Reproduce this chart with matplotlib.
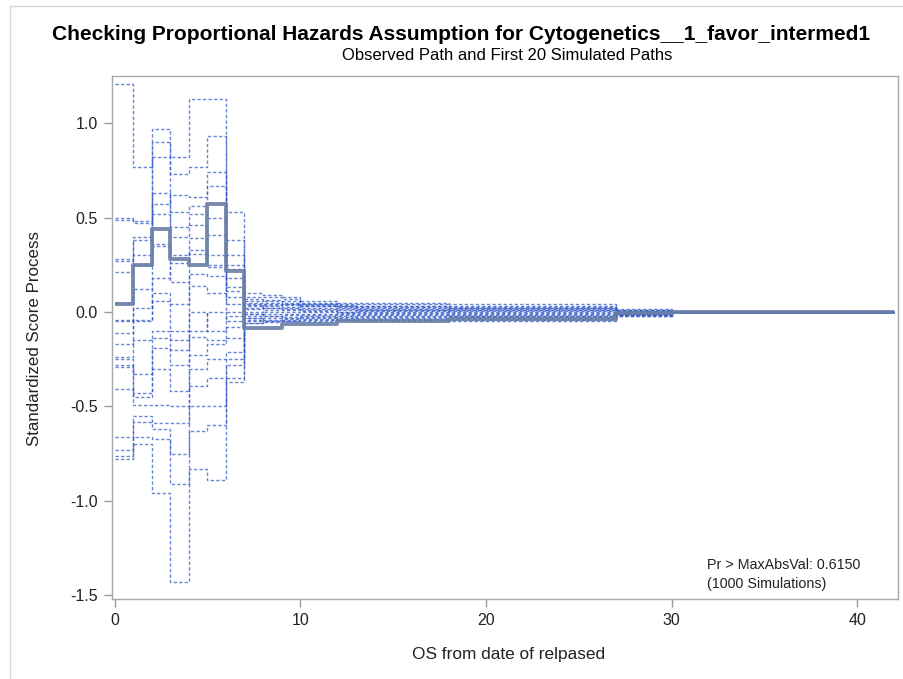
import matplotlib
matplotlib.use("Agg")
import matplotlib.pyplot as plt
from matplotlib.patches import Rectangle

plt.rcParams["font.family"] = ["Liberation Sans", "DejaVu Sans"]

# event times (step positions) of the score process
times = [0, 1, 2, 3, 4, 5, 6, 7, 8, 9, 10, 12, 13, 18, 27, 30, 42]

# observed path: value on each interval [times[i], times[i+1])
observed = [0.04, 0.25, 0.44, 0.28, 0.25, 0.57, 0.22, -0.083, -0.083, -0.065, -0.065,
            -0.048, -0.048, -0.035, -0.005, 0.0]

# first 20 simulated paths
sim_paths = [
    [1.21, 0.77, 0.97, 0.82, 1.13, 1.13, 0.53, 0.10, 0.09, 0.08, 0.06, 0.05, 0.05, 0.04, 0.015, 0],
    [0.50, 0.48, 0.90, 0.73, 0.77, 0.93, 0.38, 0.08, 0.08, 0.07, 0.05, 0.04, 0.04, 0.03, 0.01, 0],
    [0.49, 0.47, 0.57, 0.62, 0.61, 0.74, 0.25, 0.06, 0.065, 0.06, 0.045, 0.035, 0.03, 0.025, 0.012, 0],
    [0.28, 0.40, 0.82, 0.53, 0.56, 0.67, 0.23, 0.05, 0.05, 0.045, 0.04, 0.03, 0.025, 0.02, 0.008, 0],
    [0.27, 0.38, 0.63, 0.45, 0.52, 0.50, 0.13, 0.035, 0.04, 0.035, 0.03, 0.025, 0.02, 0.015, 0.005, 0],
    [0.21, 0.30, 0.52, 0.40, 0.46, 0.41, 0.30, 0.02, 0.03, 0.025, 0.02, 0.015, 0.01, 0.01, 0.003, 0],
    [0.05, 0.25, 0.36, 0.30, 0.39, 0.30, 0.11, 0.014, 0.02, 0.02, 0.015, 0.01, 0.005, 0.005, 0.0, 0],
    [-0.04, 0.12, 0.18, 0.26, 0.33, 0.25, 0.18, 0.0, 0.01, 0.01, 0.005, 0.0, 0.0, 0.0, -0.003, 0],
    [-0.05, 0.02, 0.35, 0.16, 0.31, 0.24, 0.08, -0.012, 0.0, 0.0, 0.0, -0.005, -0.005, -0.005, -0.005, 0],
    [-0.11, -0.04, 0.10, 0.04, 0.20, 0.19, 0.04, -0.02, -0.01, -0.01, -0.01, -0.01, -0.01, -0.01, -0.008, 0],
    [-0.17, -0.05, 0.06, -0.10, 0.14, 0.10, 0.00, -0.03, -0.02, -0.015, -0.015, -0.015, -0.015, -0.015, -0.01, 0],
    [-0.24, -0.15, -0.10, -0.15, 0.00, -0.10, -0.02, -0.04, -0.03, -0.025, -0.02, -0.02, -0.02, -0.02, -0.012, 0],
    [-0.25, -0.33, -0.14, -0.20, -0.10, 0.00, -0.05, 0.07, 0.06, 0.05, 0.035, 0.03, 0.03, 0.02, 0.006, 0],
    [-0.28, -0.43, -0.19, -0.28, -0.13, -0.15, -0.08, -0.05, -0.04, -0.035, -0.03, -0.03, -0.025, -0.025, -0.015, 0],
    [-0.29, -0.45, -0.30, -0.42, -0.23, -0.17, -0.14, -0.057, -0.05, -0.045, -0.04, -0.035, -0.035, -0.03, -0.018, 0],
    [-0.41, -0.49, -0.49, -0.50, -0.30, -0.25, -0.21, -0.06, -0.055, -0.05, -0.045, -0.04, -0.04, -0.035, -0.02, 0],
    [-0.66, -0.55, -0.59, -0.59, -0.39, -0.35, -0.25, 0.03, 0.035, 0.04, 0.03, 0.02, 0.015, 0.012, 0.004, 0],
    [-0.73, -0.58, -0.62, -0.75, -0.50, -0.50, -0.28, -0.03, -0.045, -0.04, -0.035, -0.025, -0.03, -0.04, -0.01, 0],
    [-0.76, -0.66, -0.67, -0.91, -0.63, -0.60, -0.35, 0.045, 0.02, 0.015, 0.01, 0.0, 0.01, -0.02, -0.006, 0],
    [-0.78, -0.70, -0.96, -1.43, -0.83, -0.89, -0.37, -0.01, -0.02, -0.03, -0.025, -0.04, -0.045, -0.045, -0.02, 0],
]

xticks = [0, 10, 20, 30, 40]
yticks = [-1.5, -1.0, -0.5, 0.0, 0.5, 1.0]

fig = plt.figure(figsize=(9.04, 6.79), dpi=100)
ax = fig.add_axes([0.1236, 0.1178, 0.8698, 0.7702])

sim_color = "#2F56C6"
for path in sim_paths:
    ax.plot(times, path + [path[-1]], drawstyle="steps-post", color=sim_color,
            lw=1.0, ls=(0, (2.4, 1.6)), alpha=0.72)
ax.plot(times, observed + [observed[-1]], drawstyle="steps-post", color="#6A7FA6",
        lw=2.8, alpha=0.9, solid_capstyle="butt")

ax.set_xlim(-0.15, 42.2)
ax.set_ylim(-1.52, 1.25)
ax.set_xticks(xticks)
ax.set_xticklabels([str(t) for t in xticks])
ax.set_yticks(yticks)
ax.set_yticklabels([f"{t:.1f}" for t in yticks])
ax.tick_params(direction="out", length=6, width=1, color="#9A9A9A",
               labelsize=11.5, labelcolor="#222222", pad=4)
for s in ax.spines.values():
    s.set_color("#A8A8A8")
    s.set_linewidth(1)

ax.text(0.757, 0.016, "Pr > MaxAbsVal: 0.6150\n(1000 Simulations)", transform=ax.transAxes,
        ha="left", va="bottom", fontsize=10.3, color="#222222", linespacing=1.45)

fig.text(461.5 / 904, 1 - 35 / 679, "Checking Proportional Hazards Assumption for Cytogenetics__1_favor_intermed1",
         ha="center", va="center", fontsize=15, fontweight="bold")
fig.text(507 / 904, 1 - 56 / 679, "Observed Path and First 20 Simulated Paths",
         ha="center", va="center", fontsize=12)
fig.text(509 / 904, 1 - 655 / 679, "OS from date of relpased", ha="center", va="center",
         fontsize=12.4, color="#222222")
fig.text(35 / 904, 1 - 338 / 679, "Standardized Score Process", ha="center", va="center",
         rotation=90, fontsize=12.2, color="#222222")

# outer graph border
fig.add_artist(Rectangle((10 / 904, -0.05), 1.2, 1 - 6 / 679 + 0.05, transform=fig.transFigure,
                         fill=False, edgecolor="#D8D8D8", lw=1, clip_on=False))

fig.savefig("out.png", dpi=100, facecolor="white")
